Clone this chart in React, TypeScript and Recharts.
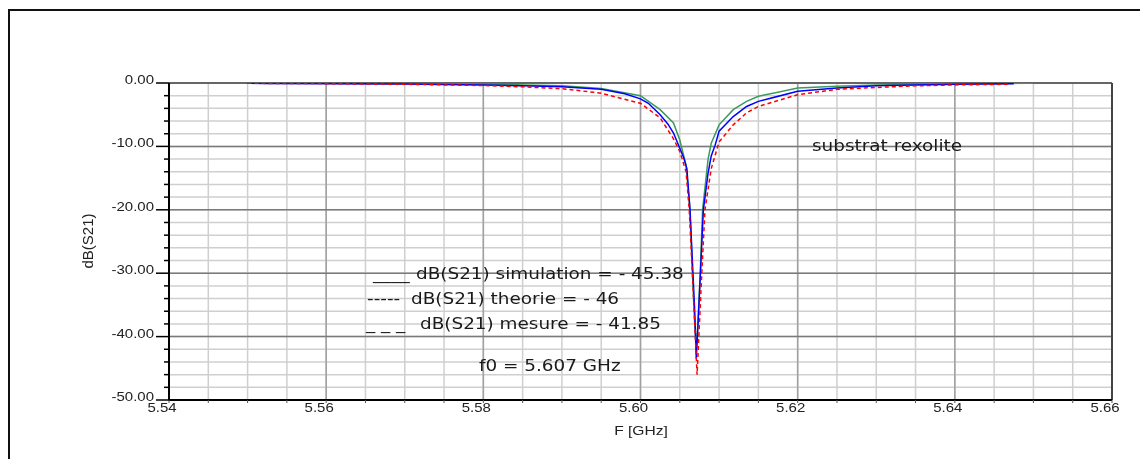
// Filtre rexolite — dB(S21) autour de f0 = 5.607 GHz
import {
  LineChart,
  Line,
  XAxis,
  YAxis,
  CartesianGrid,
  ReferenceLine,
} from 'recharts'

// ─── Données ─────────────────────────────────────────────────────────────────

const xTicks = [
  5.54, 5.545, 5.55, 5.555, 5.56, 5.565, 5.57, 5.575, 5.58, 5.585, 5.59, 5.595,
  5.6, 5.605, 5.61, 5.615, 5.62, 5.625, 5.63, 5.635, 5.64, 5.645, 5.65, 5.655, 5.66,
]
const xMajor = [5.56, 5.58, 5.6, 5.62, 5.64]

const yTicks = [
  0, -2, -4, -6, -8, -10, -12, -14, -16, -18, -20, -22, -24, -26, -28, -30,
  -32, -34, -36, -38, -40, -42, -44, -46, -48, -50,
]
const yMajor = [-10, -20, -30, -40]

// simulation (vert)
const simF = [
  5.55, 5.56, 5.57, 5.58, 5.585, 5.59, 5.595, 5.6, 5.6025, 5.6042, 5.605, 5.6058,
  5.6063, 5.6066, 5.6069, 5.6071, 5.6073, 5.6076, 5.6079, 5.6086, 5.609, 5.61,
  5.6118, 5.6135, 5.615, 5.62, 5.625, 5.63, 5.64, 5.65,
]
const simDb = [
  0, -0.05, -0.1, -0.2, -0.3, -0.45, -0.85, -2.0, -4.2, -6.3, -9.0, -13.0,
  -20, -30, -38, -42, -38, -30, -20, -12.0, -9.5, -6.6,
  -4.2, -2.9, -2.1, -0.8, -0.5, -0.3, -0.1, -0.05,
]

// mesure (bleu)
const mesF = [
  5.55, 5.56, 5.57, 5.58, 5.585, 5.59, 5.595, 5.598, 5.6, 5.601, 5.6025, 5.6035,
  5.6042, 5.605, 5.6055, 5.6059, 5.6063, 5.6066, 5.6069, 5.6071, 5.6074, 5.6077,
  5.608, 5.6086, 5.609, 5.6095, 5.61, 5.6118, 5.6135, 5.615, 5.62, 5.625, 5.63,
  5.635, 5.64, 5.6475,
]
const mesDb = [
  -0.05, -0.1, -0.15, -0.3, -0.45, -0.6, -1.0, -1.7, -2.5, -3.2, -5.0, -6.5,
  -7.9, -10.3, -11.8, -13.5, -20, -28, -36, -43.5, -36, -28,
  -20, -14.2, -11.5, -9.8, -7.6, -5.3, -3.7, -2.9, -1.3, -0.8, -0.45,
  -0.3, -0.2, -0.1,
]

// theorie (rouge)
const theF = [
  5.55, 5.56, 5.57, 5.58, 5.585, 5.59, 5.595, 5.6, 5.6025, 5.6042, 5.605, 5.6058,
  5.6062, 5.6066, 5.6069, 5.6072, 5.6075, 5.6078, 5.6082, 5.609, 5.61, 5.6118,
  5.6135, 5.615, 5.62, 5.625, 5.63, 5.635, 5.64, 5.647,
]
const theDb = [
  -0.05, -0.1, -0.2, -0.4, -0.6, -0.9, -1.6, -3.2, -5.5, -8.8, -10.8, -14.0,
  -20, -30, -38, -46, -38, -30, -20, -13.5, -9.3, -6.6,
  -4.7, -3.7, -1.85, -1.0, -0.7, -0.45, -0.3, -0.2,
]

const toRows = (f: number[], db: number[]) => f.map((v, i) => ({ f: v, db: db[i] }))

// ─── Ticks ───────────────────────────────────────────────────────────────────

const tickFont = { fontFamily: '"Liberation Sans", Arial, sans-serif', fontSize: 12.5, fill: '#222' }

function YTick({ x, y, payload }: any) {
  const v = payload.value as number
  const major = v % 10 === 0
  return (
    <g>
      <line x1={x - (major ? 13 : 5)} x2={x} y1={y} y2={y} stroke="#000" strokeWidth={1.5} />
      {major && (
        <text x={0} y={0} transform={`translate(${x - 15},${y + 1}) scale(1.2,1)`} textAnchor="end" {...tickFont}>
          {Math.abs(v) < 1e-9 ? '0.00' : v.toFixed(2)}
        </text>
      )}
    </g>
  )
}

function XTick({ x, y, payload }: any) {
  const v = payload.value as number
  const major = Math.round(v * 1000) % 20 === 0
  return (
    <g>
      <line x1={x} x2={x} y1={y} y2={y + 3} stroke="#555" strokeWidth={1} />
      {major && (
        <text x={0} y={0} transform={`translate(${x - 7},${y + 12}) scale(1.2,1)`} textAnchor="middle" {...tickFont}>
          {v.toFixed(2)}
        </text>
      )}
    </g>
  )
}

// ─── Texte libre ─────────────────────────────────────────────────────────────

const note: React.CSSProperties = {
  position: 'absolute',
  fontFamily: '"DejaVu Sans", Verdana, sans-serif',
  fontSize: 16,
  lineHeight: 1,
  color: '#1a1a1a',
  whiteSpace: 'nowrap',
  transform: 'scaleX(1.15)',
  transformOrigin: 'left top',
}

export default function App() {
  return (
    <div style={{ position: 'relative', width: 1124, height: 443, overflow: 'hidden' }}>
      {/* cadre : haut et gauche seulement, il sort de la page à droite */}
      <div
        style={{
          position: 'fixed', top: 9, left: 8, width: 1140, height: 460,
          borderTop: '2px solid #111', borderLeft: '2px solid #111', boxSizing: 'border-box',
        }}
      />
      <div style={{ position: 'absolute', top: 2, left: 2 }}>
        <LineChart width={1122} height={441} margin={{ top: 73, right: 20, left: 0, bottom: 0 }}>
          <CartesianGrid stroke="#cfcfcf" strokeWidth={1.5} />
          <XAxis
            type="number"
            dataKey="f"
            domain={[5.54, 5.66]}
            ticks={xTicks}
            interval={0}
            height={51}
            tickSize={0}
            tickMargin={0}
            tickLine={false}
            tick={<XTick />}
            axisLine={{ stroke: '#000', strokeWidth: 2 }}
            allowDataOverflow
          />
          <YAxis
            type="number"
            domain={[-50, 0]}
            ticks={yTicks}
            interval={0}
            width={159}
            tickSize={0}
            tickMargin={0}
            tickLine={false}
            tick={<YTick />}
            axisLine={{ stroke: '#000', strokeWidth: 2 }}
            allowDataOverflow
          />
          {xMajor.map((v) => (
            <ReferenceLine key={'x' + v} x={v} stroke="#a0a0a0" strokeWidth={1.5} />
          ))}
          {yMajor.map((v) => (
            <ReferenceLine key={'y' + v} y={v} stroke="#7a7a7a" strokeWidth={1.5} />
          ))}
          <ReferenceLine y={0} stroke="#666" strokeWidth={2} />
          <ReferenceLine x={5.66} stroke="#444" strokeWidth={2} />

          <Line data={toRows(simF, simDb)} dataKey="db" type="linear" stroke="#3a9a5c" strokeWidth={1.5} dot={false} isAnimationActive={false} />
          <Line data={toRows(mesF, mesDb)} dataKey="db" type="linear" stroke="#0000ff" strokeWidth={1.5} dot={false} isAnimationActive={false} />
          <Line data={toRows(theF, theDb)} dataKey="db" type="linear" stroke="#ff0000" strokeWidth={1.5} strokeDasharray="4 3" dot={false} isAnimationActive={false} />
        </LineChart>
      </div>

      {/* titres d'axes */}
      <div
        style={{
          position: 'absolute', left: 79, top: 233, transform: 'translate(-50%,-50%) rotate(-90deg)',
          fontFamily: '"Liberation Sans", Arial, sans-serif', fontSize: 15, color: '#222', whiteSpace: 'nowrap',
        }}
      >
        dB(S21)
      </div>
      <div
        style={{
          position: 'absolute', left: 633, top: 422, transform: 'translate(-50%,-50%) scaleX(1.2)',
          fontFamily: '"Liberation Sans", Arial, sans-serif', fontSize: 13, color: '#222', whiteSpace: 'nowrap',
        }}
      >
        F [GHz]
      </div>

      {/* légende intégrée */}
      <div style={{ ...note, left: 365, top: 258 }}>____</div>
      <div style={{ ...note, left: 408, top: 258 }}>dB(S21) simulation = - 45.38</div>
      <div style={{ ...note, left: 359, top: 283 }}>-----</div>
      <div style={{ ...note, left: 403, top: 283 }}>dB(S21) theorie = - 46</div>
      <div style={{ ...note, left: 358, top: 308 }}>_ _ _</div>
      <div style={{ ...note, left: 412, top: 308 }}>dB(S21) mesure = - 41.85</div>
      <div style={{ ...note, left: 471, top: 350 }}>f0 = 5.607 GHz</div>
      <div style={{ ...note, left: 804, top: 130 }}>substrat rexolite</div>
    </div>
  )
}
